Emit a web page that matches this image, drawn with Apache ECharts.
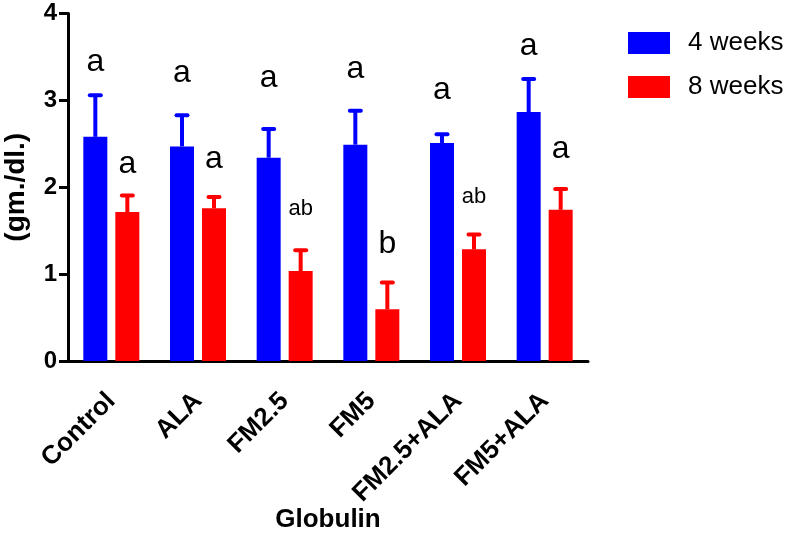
<!DOCTYPE html>
<html>
<head>
<meta charset="utf-8">
<script src="https://cdn.jsdelivr.net/npm/echarts@6/dist/echarts.min.js"></script>
<style>
html,body{margin:0;padding:0;background:#fff;}
#chart{width:787px;height:538px;}
</style>
</head>
<body>
<div id="chart"></div>
<script>
// ---- data ----
var categories = ['Control', 'ALA', 'FM2.5', 'FM5', 'FM2.5+ALA', 'FM5+ALA'];
var seriesNames = ['4 weeks', '8 weeks'];
var week4Mean = [2.58, 2.47, 2.34, 2.49, 2.51, 2.865];
var week4Err  = [0.48, 0.36, 0.33, 0.39, 0.10, 0.38];
var week8Mean = [1.715, 1.757, 1.036, 0.595, 1.285, 1.74];
var week8Err  = [0.19, 0.13, 0.24, 0.31, 0.17, 0.24];
var week4Letters = ['a', 'a', 'a', 'a', 'a', 'a'];
var week8Letters = ['a', 'a', 'ab', 'b', 'ab', 'a'];
var week4LetterY = [3.44, 3.31, 3.25, 3.36, 3.12, 3.62];
var week8LetterY = [2.27, 2.32, 1.755, 1.35, 1.89, 2.44];
var yTicks = [0, 1, 2, 3, 4];
var xTitle = 'Globulin';
var yTitle = '(gm./dl.)';

var FONT = '"Liberation Sans", Arial, Helvetica, sans-serif';
var BLUE = '#0000ff', RED = '#ff0000';
var BAR_W = 24, BAR_GAP = 8;

function errData(means, errs, ly) {
  return means.map(function (m, i) { return [i, m, errs[i], ly[i]]; });
}

function makeRender(offset, color, letters) {
  return function (params, api) {
    var idx = api.value(0), mean = api.value(1), err = api.value(2);
    var letter = letters[params.dataIndex];
    var ly = api.value(3);
    var base = api.coord([idx, mean]);
    var top = api.coord([idx, mean + err]);
    var lp = api.coord([idx, ly]);
    var x = base[0] + offset;
    var small = letter === 'ab';
    return {
      type: 'group',
      children: [
        { type: 'line', shape: { x1: x, y1: base[1], x2: x, y2: top[1] },
          style: { stroke: color, lineWidth: 4 } },
        { type: 'line', shape: { x1: x - 5.5, y1: top[1], x2: x + 5.5, y2: top[1] },
          style: { stroke: color, lineWidth: 4, lineCap: 'round' } },
        { type: 'text', x: x, y: lp[1],
          style: { text: letter, fill: '#000', align: 'center', verticalAlign: 'middle',
                   fontSize: small ? 22 : 32, fontFamily: FONT } }
      ]
    };
  };
}

var chart = echarts.init(document.getElementById('chart'), null, { renderer: 'canvas' });
chart.setOption({
  animation: false,
  backgroundColor: '#fff',
  grid: { left: 68, right: 199, top: 13.5, bottom: 177, containLabel: false, outerBoundsMode: 'none' },
  legend: {
    data: seriesNames,
    orient: 'vertical',
    left: 623, top: 25,
    itemWidth: 42, itemHeight: 22, itemGap: 18,
    icon: 'rect',
    textStyle: { fontFamily: FONT, fontSize: 26, color: '#000', padding: [0, 0, 0, 13] }
  },
  xAxis: {
    type: 'category',
    data: categories,
    name: xTitle,
    nameLocation: 'middle',
    nameGap: 146,
    nameMoveOverlap: false,
    nameTextStyle: { fontFamily: FONT, fontSize: 26, fontWeight: 'bold', color: '#000' },
    axisLine: { lineStyle: { color: '#000', width: 3 } },
    axisTick: { alignWithLabel: true, length: 9, lineStyle: { color: '#000', width: 3 } },
    axisLabel: { rotate: 45, margin: 36, fontFamily: FONT, fontSize: 26, fontWeight: 'bold', color: '#000', interval: 0 }
  },
  yAxis: {
    type: 'value',
    min: yTicks[0], max: yTicks[yTicks.length - 1], interval: 1,
    name: yTitle,
    nameLocation: 'middle',
    nameGap: 38,
    nameMoveOverlap: false,
    nameTextStyle: { fontFamily: FONT, fontSize: 28, fontWeight: 'bold', color: '#000' },
    axisLine: { show: true, lineStyle: { color: '#000', width: 3 } },
    axisTick: { show: true, inside: false, length: 9, lineStyle: { color: '#000', width: 3 } },
    axisLabel: { margin: 11, fontFamily: FONT, fontSize: 24, fontWeight: 'bold', color: '#000' },
    splitLine: { show: false }
  },
  series: [
    { name: seriesNames[0], type: 'bar', data: week4Mean, barWidth: BAR_W,
      barGap: (BAR_GAP / BAR_W * 100) + '%', itemStyle: { color: BLUE } },
    { name: seriesNames[1], type: 'bar', data: week8Mean, barWidth: BAR_W,
      itemStyle: { color: RED } },
    { name: 'err4', type: 'custom', data: errData(week4Mean, week4Err, week4LetterY),
      encode: { x: 0, y: 1 }, renderItem: makeRender(-(BAR_W + BAR_GAP) / 2, BLUE, week4Letters), z: 3, clip: false },
    { name: 'err8', type: 'custom', data: errData(week8Mean, week8Err, week8LetterY),
      encode: { x: 0, y: 1 }, renderItem: makeRender((BAR_W + BAR_GAP) / 2, RED, week8Letters), z: 3, clip: false }
  ]
});
</script>
</body>
</html>
